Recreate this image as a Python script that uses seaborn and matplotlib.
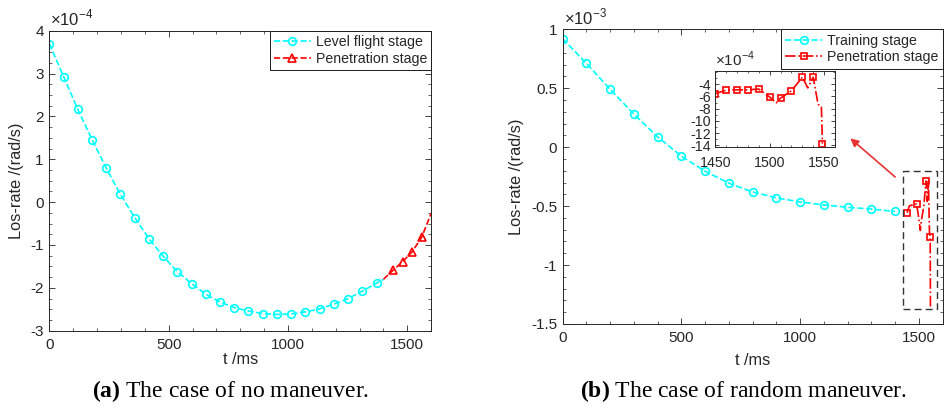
import matplotlib
matplotlib.use("Agg")
import matplotlib.pyplot as plt
import seaborn as sns
from matplotlib.ticker import MultipleLocator, AutoMinorLocator, FixedLocator
from matplotlib.patches import Rectangle

# ---------------- data ----------------
# (a) no maneuver, LOS rate in units of 1e-4 rad/s
t_level = [0, 60, 119, 179, 238, 298, 358, 417, 477, 536, 596, 656, 715, 775,
           834, 894, 954, 1013, 1073, 1132, 1192, 1252, 1311, 1371, 1400]
rate_level = [3.70, 2.93, 2.17, 1.46, 0.80, 0.18, -0.36, -0.85, -1.26, -1.62,
              -1.90, -2.15, -2.33, -2.46, -2.54, -2.60, -2.62, -2.61, -2.56,
              -2.49, -2.38, -2.25, -2.08, -1.89, -1.80]
t_pen_a = [1400, 1440, 1480, 1520, 1560, 1600]
rate_pen_a = [-1.80, -1.59, -1.39, -1.16, -0.82, -0.26]

# (b) random maneuver, training stage in units of 1e-3 rad/s
t_train = [0, 100, 200, 300, 400, 500, 600, 700, 800, 900, 1000, 1100, 1200,
           1300, 1400]
rate_train = [0.92, 0.71, 0.49, 0.28, 0.087, -0.077, -0.205, -0.306, -0.38,
              -0.43, -0.465, -0.49, -0.51, -0.525, -0.545]
# (b) penetration stage in units of 1e-4 rad/s
t_pen_b = [1450, 1460, 1470, 1480, 1490, 1500, 1506, 1510, 1520, 1530, 1535,
           1540, 1544.5, 1547.5, 1548.5]
rate_pen_b = [-5.56, -4.97, -4.92, -4.92, -4.80, -6.10, -7.06, -6.26, -5.08,
              -2.87, -4.60, -2.87, -7.30, -7.60, -13.70]

labels_a = ["Level flight stage", "Penetration stage"]
labels_b = ["Training stage", "Penetration stage"]
captions = [("(a)", "The case of no maneuver."),
            ("(b)", "The case of random maneuver.")]

# ---------------- style ----------------
sns.set_style("ticks")
plt.rcParams.update({
    "font.family": ["Liberation Sans", "DejaVu Sans"],
    "axes.unicode_minus": False,
    "mathtext.fontset": "custom",
    "mathtext.rm": "Liberation Sans",
    "mathtext.bf": "Liberation Serif:bold",
    "xtick.direction": "in", "ytick.direction": "in",
    "xtick.top": True, "ytick.right": True,
    "xtick.minor.visible": True, "ytick.minor.visible": True,
    "axes.edgecolor": "0.15", "axes.linewidth": 0.7,
    "xtick.color": "0.15", "ytick.color": "0.15",
    "xtick.major.size": 4, "ytick.major.size": 4,
    "xtick.minor.size": 2.2, "ytick.minor.size": 2.2,
    "xtick.major.width": 0.6, "ytick.major.width": 0.6,
    "xtick.minor.width": 0.5, "ytick.minor.width": 0.5,
    "xtick.major.pad": 5, "ytick.major.pad": 4,
})

CYAN = (0.0, 1.0, 1.0)
RED = (1.0, 0.0, 0.0)
TICK_FS = 11
LABEL_FS = 11.8
LEG_FS = 10.2
INSET_FS = 10.2

fig = plt.figure(figsize=(9.44, 4.12), dpi=100)
fig.patch.set_facecolor("white")

ax_a = fig.add_axes([0.0522, 0.1973, 0.4046, 0.7282])
ax_b = fig.add_axes([0.5961, 0.2136, 0.4025, 0.7153])
ax_in = fig.add_axes([0.7577, 0.6439, 0.1268, 0.1845])


def line(ax, x, y, color, ls, marker, label=None, markevery=None, ms=5.5):
    sns.lineplot(x=x, y=y, ax=ax, color=color, linestyle=ls, lw=1.2,
                 marker=marker, markersize=ms, markerfacecolor="none",
                 markeredgecolor=color, markeredgewidth=1.2,
                 markevery=markevery, label=label, estimator=None, sort=False)


def finish(ax, fs):
    ax.tick_params(labelsize=fs, labelcolor="0.15")
    for s in ax.spines.values():
        s.set_color("0.15")
    ax.set_facecolor("white")


def add_legend(ax):
    leg = ax.legend(loc="upper right", borderaxespad=0, fancybox=False,
                    framealpha=1, edgecolor="0.1", fontsize=LEG_FS,
                    handlelength=2.6, handletextpad=0.35, borderpad=0.3,
                    labelspacing=0.2)
    leg.get_frame().set_linewidth(0.7)


# ---------------- (a) ----------------
line(ax_a, t_level, rate_level, CYAN, "--", "o", labels_a[0],
     markevery=list(range(len(t_level) - 1)))
line(ax_a, t_pen_a, rate_pen_a, RED, "--", "^", labels_a[1],
     markevery=[1, 2, 3, 4])
ax_a.set_xlim(0, 1600)
ax_a.set_ylim(-3, 4)
ax_a.xaxis.set_major_locator(MultipleLocator(500))
ax_a.xaxis.set_minor_locator(MultipleLocator(100))
ax_a.yaxis.set_major_locator(MultipleLocator(1))
ax_a.yaxis.set_minor_locator(AutoMinorLocator(4))
ax_a.set_xlabel("t /ms", fontsize=LABEL_FS, color="0.15")
ax_a.set_ylabel("Los-rate /(rad/s)", fontsize=LABEL_FS, color="0.15")
ax_a.xaxis.set_label_coords(0.5, -0.095)
ax_a.xaxis.label.set_va("center")
ax_a.yaxis.set_label_coords(-0.085, 0.5)
ax_a.yaxis.label.set_va("center")
ax_a.text(0.002, 1.008, r"×10$^{-4}$", transform=ax_a.transAxes,
          fontsize=12, color="0.15", ha="left", va="bottom")
finish(ax_a, TICK_FS)
add_legend(ax_a)

# ---------------- (b) ----------------
rate_pen_b_main = [v / 10 for v in rate_pen_b]
line(ax_b, t_train, rate_train, CYAN, "--", "o", labels_b[0])
line(ax_b, t_pen_b, rate_pen_b_main, RED, "-.", "s", labels_b[1],
     markevery=[0, 4, 9, 13], ms=5)
ax_b.set_xlim(0, 1600)
ax_b.set_ylim(-1.5, 1)
ax_b.xaxis.set_major_locator(MultipleLocator(500))
ax_b.xaxis.set_minor_locator(MultipleLocator(100))
ax_b.yaxis.set_major_locator(MultipleLocator(0.5))
ax_b.yaxis.set_minor_locator(MultipleLocator(0.1))
ax_b.yaxis.set_major_formatter(
    matplotlib.ticker.FuncFormatter(lambda v, p: f"{v:g}"))
ax_b.set_xlabel("t /ms", fontsize=LABEL_FS, color="0.15")
ax_b.set_ylabel("Los-rate /(rad/s)", fontsize=LABEL_FS, color="0.15")
ax_b.xaxis.set_label_coords(0.5, -0.125)
ax_b.xaxis.label.set_va("center")
ax_b.yaxis.set_label_coords(-0.121, 0.5)
ax_b.yaxis.label.set_va("center")
ax_b.text(0.004, 1.008, r"×10$^{-3}$", transform=ax_b.transAxes,
          fontsize=12, color="0.15", ha="left", va="bottom")
finish(ax_b, TICK_FS)
add_legend(ax_b)

# zoom window and pointer to the inset
ax_b.add_patch(Rectangle((1433, -1.375), 144, 1.175, fill=False,
                         ls=(0, (5, 3)), ec="0.2", lw=1.0, zorder=5))
ax_b.annotate("", xy=(1211, 0.075), xytext=(1400, -0.253),
              arrowprops=dict(arrowstyle="-|>", color=(0.9, 0.2, 0.2),
                              lw=1.2, mutation_scale=12,
                              shrinkA=0, shrinkB=0))

# ---------------- inset ----------------
line(ax_in, t_pen_b, rate_pen_b, RED, "-.", "s",
     markevery=[0, 1, 2, 3, 4, 5, 7, 8, 9, 11, 14], ms=4.6)
if ax_in.get_legend() is not None:
    ax_in.get_legend().remove()
ax_in.set_xlim(1450, 1560)
ax_in.set_ylim(-14.2, -1.8)
ax_in.xaxis.set_major_locator(MultipleLocator(50))
ax_in.xaxis.set_minor_locator(MultipleLocator(10))
ax_in.yaxis.set_major_locator(FixedLocator([-14, -12, -10, -8, -6, -4]))
ax_in.yaxis.set_minor_locator(MultipleLocator(1))
ax_in.set_xlabel("")
ax_in.set_ylabel("")
ax_in.tick_params(which="major", length=3)
ax_in.tick_params(which="minor", length=1.6)
ax_in.tick_params(axis="x", which="major", pad=7)
ax_in.tick_params(axis="y", which="major", pad=3)
ax_in.text(0.0, 1.02, r"×10$^{-4}$", transform=ax_in.transAxes,
           fontsize=11, color="0.15", ha="left", va="bottom")
finish(ax_in, INSET_FS)

# ---------------- captions ----------------
for (tag, text), xc in zip(captions, [231 / 944, 744 / 944]):
    fig.text(xc, (412 - 391) / 412, r"$\mathbf{" + tag + "}$ " + text,
             ha="center", va="center", fontsize=17,
             family=["Liberation Serif", "DejaVu Serif"], color="black")

fig.savefig("out.png", dpi=100, facecolor="white")
